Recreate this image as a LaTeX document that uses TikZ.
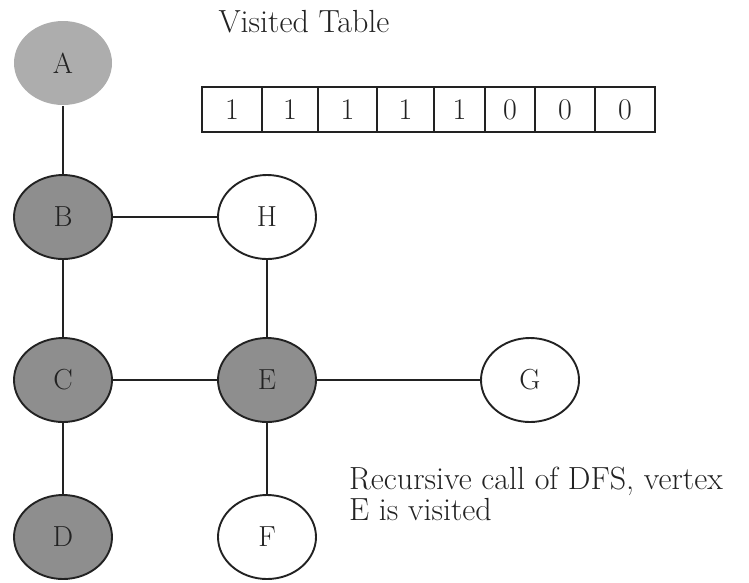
\documentclass[tikz,border=0pt]{standalone}
\usepackage{tikz}
\usetikzlibrary{shapes.geometric, positioning}
\definecolor{seengray}{HTML}{8E8E8E}
\definecolor{startgray}{HTML}{ADADAD}
\definecolor{inkdark}{HTML}{222222}

\begin{document}
\begin{tikzpicture}[x=1pt, y=-1pt,
  vertex/.style={
    ellipse, minimum width=98pt, minimum height=84pt, inner sep=0pt,
    draw=inkdark, line width=1.9pt,
    font=\fontsize{29}{30}\selectfont, text=inkdark
  },
  seen/.style={vertex, fill=seengray},
  fresh/.style={vertex, fill=white},
  start/.style={vertex, draw=none, fill=startgray},
  cell/.style={
    rectangle, draw=inkdark, line width=1.9pt,
    minimum height=45pt, inner sep=0pt,
    font=\fontsize{30}{31}\selectfont, text=inkdark
  },
  link/.style={line width=2.6pt, draw=inkdark},
  note/.style={font=\fontsize{32}{31}\selectfont, text=inkdark, align=left, inner sep=0pt}
]
\useasboundingbox (0,0) rectangle (749,582);

% Vertices
\node[start] (A) at (63,63)   {A};
\node[seen]  (B) at (63,217)  {B};
\node[fresh] (H) at (267,217) {H};
\node[seen]  (C) at (63,380)  {C};
\node[seen]  (E) at (267,380) {E};
\node[fresh] (G) at (530,380) {G};
\node[seen]  (D) at (63,537)  {D};
\node[fresh] (F) at (267,537) {F};

% Edges
\draw[link] (A) -- (B);
\draw[link] (B) -- (H);
\draw[link] (B) -- (C);
\draw[link] (H) -- (E);
\draw[link] (C) -- (E);
\draw[link] (E) -- (G);
\draw[link] (C) -- (D);
\draw[link] (E) -- (F);

% Visited table
\node[note, anchor=base] (title) at (304,32) {Visited Table};
\foreach \l/\r/\v [count=\i] in {202/262/1, 262/318/1, 318/377/1, 377/434/1,
                                 434/485/1, 485/535/0, 535/595/0, 595/655/0}
  \node[cell, minimum width=\r pt-\l pt] (c\i) at ({(\l+\r)/2},109.5) {\v};

% Caption
\node[note, anchor=north west] (msg) at (349,467)
  {Recursive call of DFS, vertex\\E is visited};

\end{tikzpicture}
\end{document}
